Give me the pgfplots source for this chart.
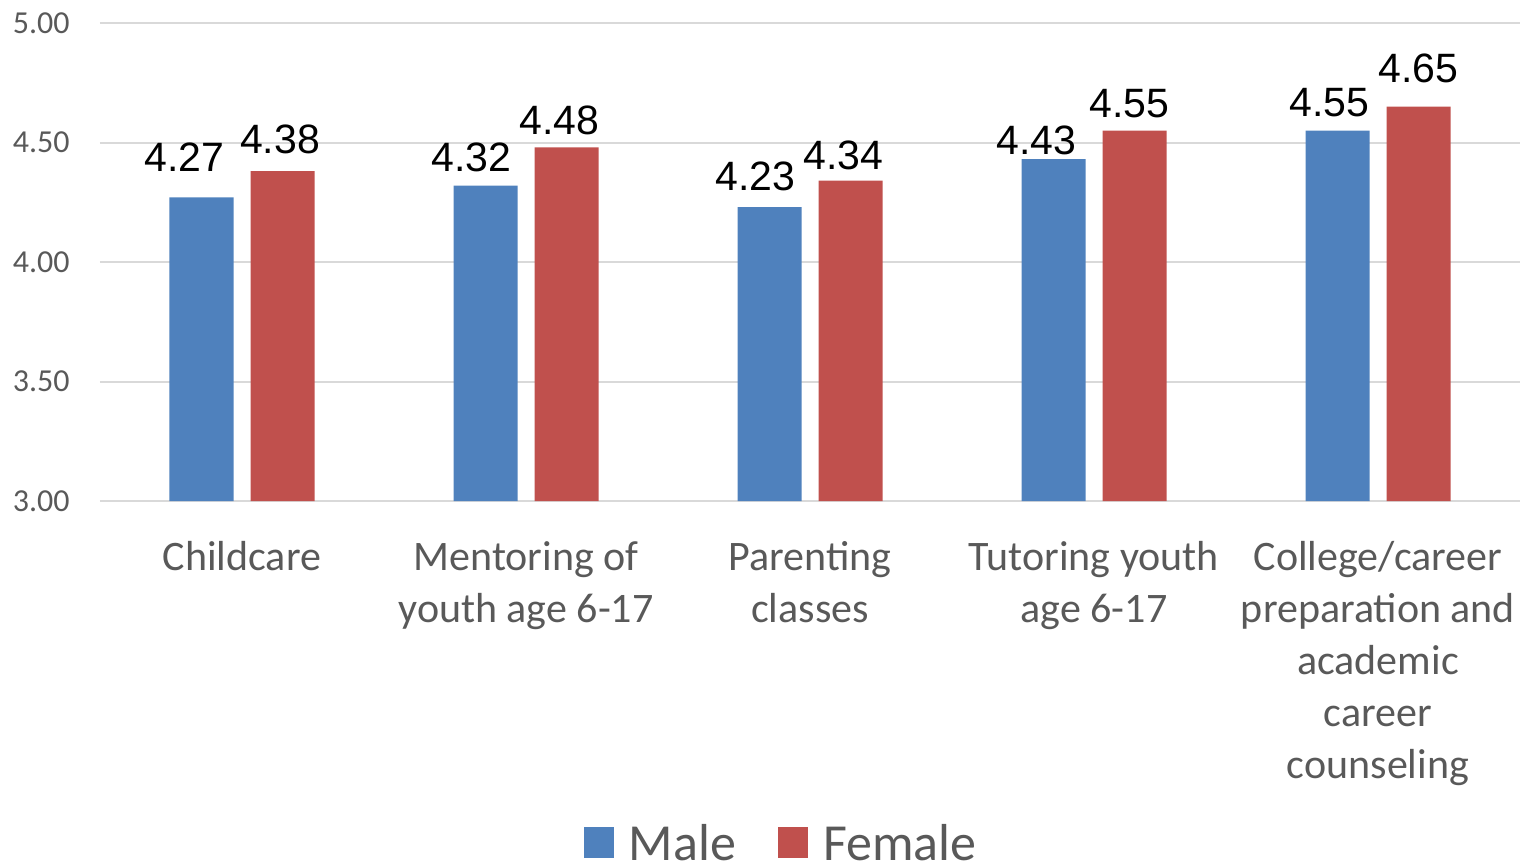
\documentclass[border=0pt]{standalone}
\usepackage{fontspec}
\setmainfont{Carlito}
\newfontfamily\arialf{Liberation Sans}
\usepackage{pgfplots}
\usepackage{pgfplotstable}
\pgfplotsset{compat=1.18}
\definecolor{maleblue}{HTML}{4F81BD}
\definecolor{femred}{HTML}{C0504D}
\definecolor{gridgray}{HTML}{D9D9D9}
\definecolor{textgray}{HTML}{595959}

\pgfplotstableread{
x y dx dy
0 4.27 -8.5 13
1 4.32 -7 7
2 4.23 -7 8.3
3 4.43 -8.5 2.5
4 4.55 -4 6.8
}\maletable
\pgfplotstableread{
x y dx dy
0 4.38 -1.25 9
1 4.48 -3.5 6.3
2 4.34 -3.5 5.8
3 4.55 -2.5 6.7
4 4.65 0 12
}\femaletable

\begin{document}
\begin{tikzpicture}
\begin{axis}[
  at={(0,0)}, anchor=south west,
  scale only axis, width=710pt, height=239pt,
  xmin=-0.5, xmax=4.5, ymin=3, ymax=5,
  ybar, bar width=32pt,
  /pgf/number format/assume math mode=true,
  axis line style={draw=none},
  tick style={draw=none},
  ymajorgrids, grid style={gridgray, line width=1pt},
  ytick={3,3.5,4,4.5,5},
  yticklabel style={font=\fontsize{16}{19}\selectfont, text=textgray, anchor=east, inner sep=0pt, xshift=-15pt,
    /pgf/number format/.cd, fixed, fixed zerofill, precision=2},
  xtick={0,1,2,3,4},
  xticklabels={{\strut Childcare},{\strut Mentoring of\\youth age 6-17},{\strut Parenting\\classes},{\strut Tutoring youth\\age 6-17},{\strut College/career\\preparation and\\academic\\career\\counseling}},
  xticklabel style={font=\fontsize{21}{26}\selectfont, text=textgray, align=center, anchor=north, inner sep=0pt, yshift=-12.3pt},
  nodes near coords={\pgfmathprintnumber[fixed,fixed zerofill,precision=2]{\pgfplotspointmeta}},
  visualization depends on={\thisrow{dx} \as \dx},
  visualization depends on={\thisrow{dy} \as \dy},
  every node near coord/.append style={font=\arialf\fontsize{20.5}{24}\selectfont, text=black, anchor=base, xshift={\dx}, yshift={\dy}},
  legend style={draw=none, fill=none, at={(0.479,-0.7165)}, anchor=center, legend columns=-1,
    font=\fontsize{26}{30}\selectfont, text=textgray, inner sep=0pt, outer sep=0pt, nodes={inner sep=0pt},
    /tikz/every even column/.append style={column sep=21pt},
    /tikz/every odd column/.append style={column sep=7.5pt}},
  legend image code/.code={\fill[#1] (0pt,-7pt) rectangle (15pt,8pt);},
]
\addplot[fill=maleblue, draw=none, bar shift=-20.25pt] table[x=x, y=y] {\maletable};
\addlegendentry{Male}
\addplot[fill=femred, draw=none, bar shift=20.25pt] table[x=x, y=y] {\femaletable};
\addlegendentry{Female}
\end{axis}
\pgfresetboundingbox
\path (-50pt,-181.5pt) rectangle (711pt,250.5pt);
\end{tikzpicture}
\end{document}
